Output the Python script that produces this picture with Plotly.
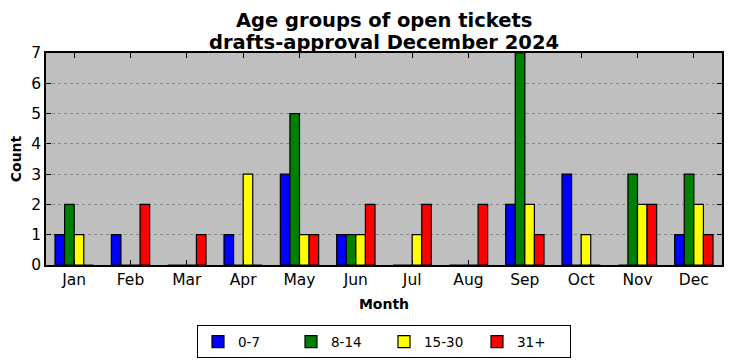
import plotly.graph_objects as go

months = ["Jan", "Feb", "Mar", "Apr", "May", "Jun", "Jul", "Aug", "Sep", "Oct", "Nov", "Dec"]
age_0_7 = [1, 1, 0, 1, 3, 1, 0, 0, 2, 3, 0, 1]
age_8_14 = [2, 0, 0, 0, 5, 1, 0, 0, 7, 0, 3, 3]
age_15_30 = [1, 0, 0, 3, 1, 1, 1, 0, 2, 1, 2, 2]
age_31_plus = [0, 2, 1, 0, 1, 2, 2, 2, 1, 0, 2, 1]
series_names = ["0-7", "8-14", "15-30", "31+"]
series_colors = ["#0000ff", "#008000", "#ffff00", "#ff0000"]
y_ticks = [0, 1, 2, 3, 4, 5, 6, 7]
title_lines = ["Age groups of open tickets", "drafts-approval December 2024"]

FONT = "DejaVu Sans"
fig = go.Figure()
for name, vals, col in zip(series_names, [age_0_7, age_8_14, age_15_30, age_31_plus], series_colors):
    fig.add_trace(go.Bar(x=months, y=vals, name=name,
                         marker=dict(color=col, line=dict(color="black", width=1.2))))

for txt, ypos in zip(title_lines, [1.155, 1.05]):
    fig.add_annotation(text="<b>" + txt + "</b>", x=0.5, xref="paper", y=ypos, yref="paper",
                       xanchor="center", yanchor="middle", showarrow=False,
                       font=dict(size=19.5, family=FONT, color="black"))

fig.update_layout(
    width=732, height=361,
    margin=dict(l=46, r=10, t=53, b=96, autoexpand=False),
    paper_bgcolor="white", plot_bgcolor="#bfbfbf",
    barmode="group", bargap=0.32, bargroupgap=0,
    font=dict(family=FONT, color="black"),
    legend=dict(orientation="h", x=0.5, xanchor="center", xref="paper",
                y=-0.285, yanchor="top", bordercolor="black", borderwidth=1,
                font=dict(size=13.5, family=FONT), entrywidth=48,
                itemwidth=30, bgcolor="white"),
    showlegend=True,
)
fig.update_xaxes(type="category", range=[-0.5, 11.5], showline=True, linecolor="black",
                 linewidth=1.5, mirror="ticks", ticks="inside", ticklen=5, tickcolor="black",
                 tickfont=dict(size=15.5, family=FONT), showgrid=False, automargin=False,
                 title=dict(text="<b>Month</b>", font=dict(size=14, family=FONT), standoff=11))
fig.update_yaxes(range=[0, 7], tickvals=y_ticks, showline=True, linecolor="black",
                 linewidth=1.5, mirror="ticks", ticks="inside", ticklen=5, tickcolor="black",
                 tickfont=dict(size=15.5, family=FONT), showgrid=True, gridcolor="#888888",
                 griddash="dot", gridwidth=1, zeroline=False, automargin=False,
                 title=dict(text="<b>Count</b>", font=dict(size=14, family=FONT), standoff=6))

fig.write_html("out.html", post_script="document.body.style.margin='0';",
               config={"displayModeBar": False})
